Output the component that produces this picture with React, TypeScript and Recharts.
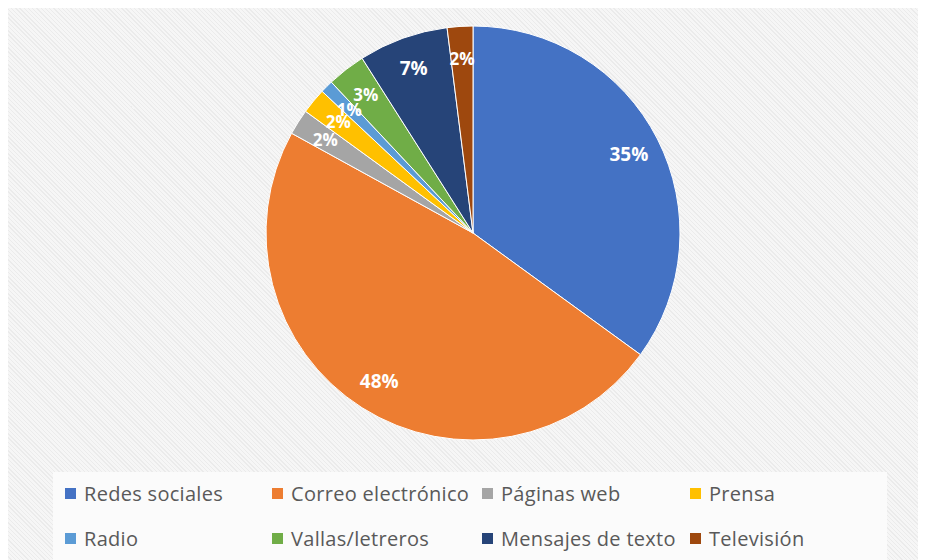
import React from "react";
import { PieChart, Pie, Cell, Legend } from "recharts";

const CATEGORIES = [
  "Redes sociales",
  "Correo electrónico",
  "Páginas web",
  "Prensa",
  "Radio",
  "Vallas/letreros",
  "Mensajes de texto",
  "Televisión",
];
const PERCENTS = [35, 48, 2, 2, 1, 3, 7, 2];
const COLORS = ["#4472C4", "#ED7D31", "#A5A5A5", "#FFC000", "#5B9BD5", "#70AD47", "#264478", "#9E480E"];

const data = CATEGORIES.map((name, i) => ({ name, value: PERCENTS[i] }));

const RADIAN = Math.PI / 180;
const FONT = "'Open Sans', 'DejaVu Sans', sans-serif";

// legend column offsets inside the legend box
const COL_X = [12, 219, 429, 637];
const ROW_Y = [21, 66];

const renderLabel = (props: any) => {
  const { cx, cy, midAngle, outerRadius, value } = props;
  const r = outerRadius * 0.845;
  const x = cx + r * Math.cos(-midAngle * RADIAN);
  const y = cy + r * Math.sin(-midAngle * RADIAN);
  return (
    <text
      x={x}
      y={y}
      fill="#ffffff"
      textAnchor="middle"
      dominantBaseline="central"
      fontSize={value < 5 ? 17 : 19}
      fontWeight={700}
      fontFamily={FONT}
    >
      {`${value}%`}
    </text>
  );
};

const renderLegend = () => (
  <div style={{ position: "relative", width: 834, height: 88, background: "#fbfbfb" }}>
    {CATEGORIES.map((name, i) => {
      const col = i % 4;
      const row = Math.floor(i / 4);
      return (
        <div
          key={name}
          style={{
            position: "absolute",
            left: COL_X[col],
            top: ROW_Y[row] - 14,
            height: 28,
            display: "flex",
            alignItems: "center",
            whiteSpace: "nowrap",
          }}
        >
          <span style={{ width: 11, height: 11, background: COLORS[i], display: "inline-block", marginRight: 8 }} />
          <span style={{ fontSize: 20, letterSpacing: 0.3, color: "#595959", fontFamily: FONT }}>{name}</span>
        </div>
      );
    })}
  </div>
);

export default function App() {
  return (
    <div
      style={{
        width: 918,
        height: 552,
        fontFamily: FONT,
        background: "repeating-linear-gradient(45deg, #f6f6f6 0px, #f6f6f6 2px, #ebebeb 2px, #ebebeb 3px)",
      }}
    >
      <PieChart width={918} height={552} margin={{ top: 0, right: 0, bottom: 0, left: 0 }}>
        <Pie
          data={data}
          dataKey="value"
          nameKey="name"
          cx={465}
          cy={225}
          outerRadius={207}
          startAngle={90}
          endAngle={-270}
          stroke="#ffffff"
          strokeWidth={1}
          labelLine={false}
          label={renderLabel}
          isAnimationActive={false}
        >
          {data.map((entry, index) => (
            <Cell key={`cell-${index}`} fill={COLORS[index]} />
          ))}
        </Pie>
        <Legend
          content={renderLegend}
          wrapperStyle={{ position: "absolute", left: 45, top: 464, width: 834, height: 88 }}
        />
      </PieChart>
    </div>
  );
}
